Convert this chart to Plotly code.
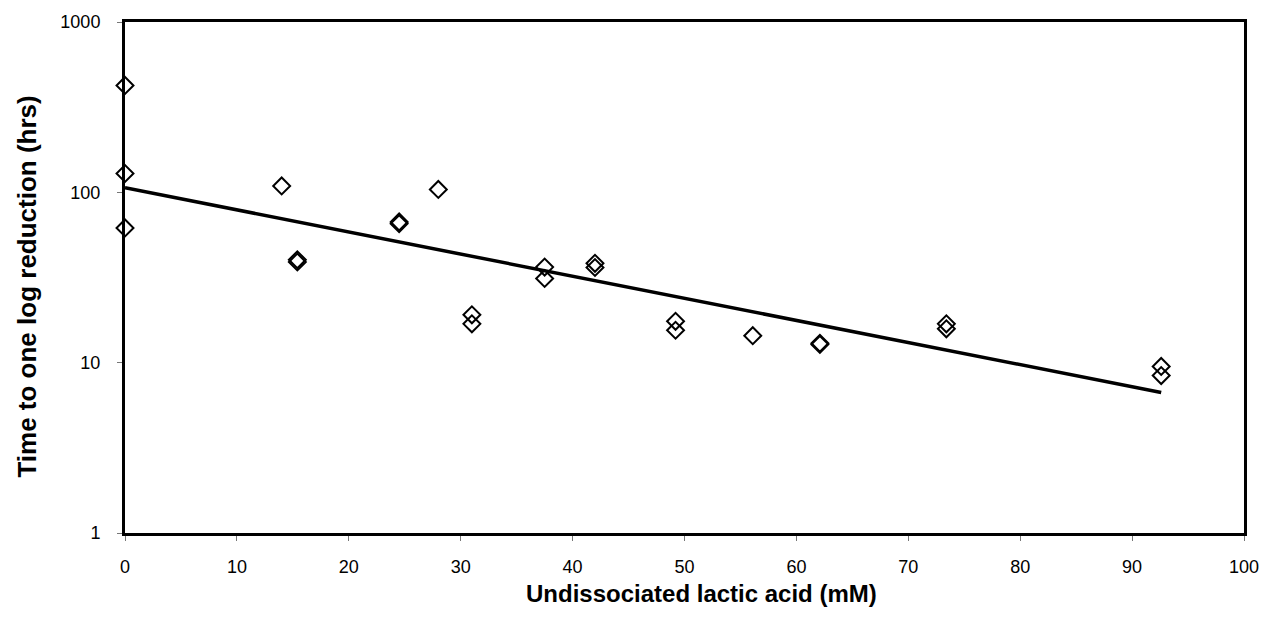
import numpy as np
import plotly.graph_objects as go

# Undissociated lactic acid (mM)
acid_mM = [0, 0, 0, 14.0, 15.4, 15.4, 24.5, 24.5, 28.0, 31.0, 31.0,
           37.5, 37.5, 42.0, 42.0, 49.2, 49.2, 56.1, 62.1, 62.1,
           73.4, 73.4, 92.6, 92.6]
# Time to one log reduction (hrs)
time_hrs = [424, 129, 61.8, 109, 39.0, 40.2, 65.5, 67.0, 104, 19.1, 16.9,
            36.4, 31.2, 38.3, 36.2, 17.5, 15.5, 14.4, 13.0, 12.8,
            16.9, 15.8, 9.5, 8.4]

x_ticks = [0, 10, 20, 30, 40, 50, 60, 70, 80, 90, 100]
y_ticks = [1, 10, 100, 1000]
y_tick_labels = ["1", "10", "100", "1000"]

x_title = "Undissociated lactic acid (mM)"
y_title = "Time to one log reduction (hrs)"

# exponential trendline (least-squares on log values)
xa = np.array(acid_mM, dtype=float)
ya = np.log10(np.array(time_hrs, dtype=float))
slope, intercept = np.polyfit(xa, ya, 1)
trend_x = np.array([xa.min(), xa.max()])
trend_y = 10 ** (intercept + slope * trend_x)

FONT = "Liberation Sans, Arial, Helvetica, sans-serif"

fig = go.Figure()
fig.add_trace(go.Scatter(
    x=trend_x, y=trend_y, mode="lines",
    line=dict(color="black", width=3.5), hoverinfo="skip", showlegend=False))
fig.add_trace(go.Scatter(
    x=acid_mM, y=time_hrs, mode="markers",
    marker=dict(symbol="diamond-open", size=13, color="black",
                line=dict(color="black", width=2)),
    cliponaxis=False, showlegend=False))

fig.update_layout(
    width=1271, height=628,
    margin=dict(l=125, r=25, t=17, b=95),
    paper_bgcolor="white", plot_bgcolor="white",
    font=dict(family=FONT, color="black", size=18),
    xaxis=dict(
        range=[0, 100], tickvals=x_ticks, ticks="outside", ticklen=5,
        tickcolor="#777", tickwidth=1, showgrid=False, zeroline=False,
        showline=True, linecolor="black", linewidth=3, mirror=True,
        ticklabelstandoff=10,
        tickfont=dict(family=FONT, size=18, color="black"),
    ),
    yaxis=dict(
        type="log", range=[0, 3], tickvals=y_ticks, ticktext=y_tick_labels,
        ticks="outside", ticklen=5, tickcolor="#777", tickwidth=1,
        showgrid=False, zeroline=False,
        showline=True, linecolor="black", linewidth=3, mirror=True,
        ticklabelstandoff=13,
        tickfont=dict(family=FONT, size=18, color="black"),
    ),
    annotations=[
        dict(text="<b>" + x_title + "</b>", xref="paper", yref="paper",
             x=0.5156, y=-0.118, xanchor="center", yanchor="middle",
             showarrow=False, font=dict(family=FONT, size=24, color="black")),
        dict(text="<b>" + y_title + "</b>", xref="paper", yref="paper",
             x=-0.0874, y=0.4826, xanchor="center", yanchor="middle",
             textangle=-90, showarrow=False,
             font=dict(family=FONT, size=26, color="black")),
    ],
)

fig.write_html("out.html")
